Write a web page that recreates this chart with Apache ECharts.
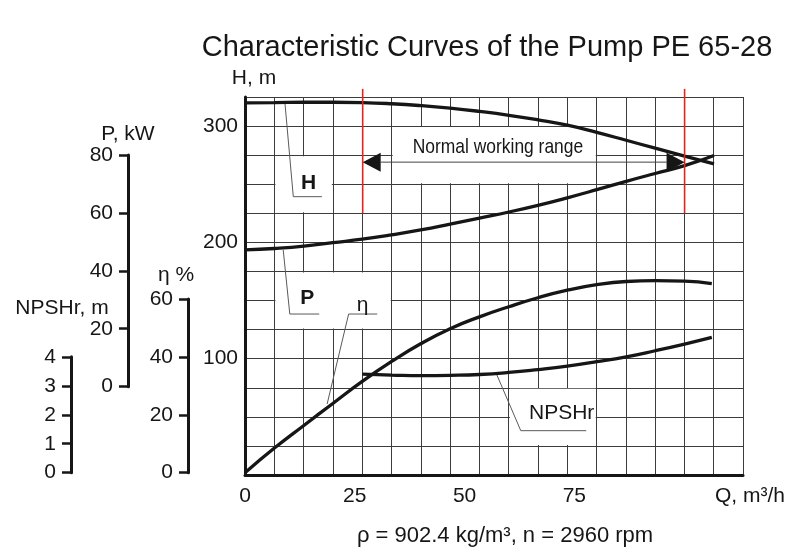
<!DOCTYPE html>
<html><head><meta charset="utf-8">
<script src="https://cdn.jsdelivr.net/npm/echarts@6/dist/echarts.min.js"></script>
<style>html,body{margin:0;padding:0;background:#fff}#c{width:800px;height:554px}</style>
</head><body><div id="c"></div>
<script>
// ---------------- data ----------------
const flowQ   = [0, 6.7, 13.4, 20.0, 26.7, 33.4, 40.0, 46.7, 53.4, 60.1, 66.7, 73.4, 80.1, 86.8, 93.4, 100.1, 106.8];
const headH   = [320, 320.2, 320.5, 320.5, 320.2, 319.2, 317.6, 315.4, 312.6, 309.3, 305.4, 300.8, 294.6, 287.8, 281, 274.2, 267.5];
const powerP  = [47.2, 47.7, 48.5, 49.7, 50.9, 52.4, 54.1, 56.1, 58.2, 60.3, 62.6, 65.2, 68.0, 70.9, 73.6, 76.3, 79.8];
const effQ    = [0, 6.7, 13.4, 20.0, 26.7, 33.4, 40.0, 46.7, 53.4, 60.1, 66.7, 73.4, 80.1, 86.8, 93.4, 100.1, 106.3];
const effEta  = [0, 8.5, 16.3, 23.9, 31.5, 38.4, 44.5, 49.7, 53.8, 57.3, 60.4, 63.0, 64.9, 66.0, 66.3, 66.1, 65.3];
const npshQ   = [26.7, 33.4, 40.0, 46.7, 53.4, 60.1, 66.7, 73.4, 80.1, 86.8, 93.4, 100.1, 106.3];
const npshR   = [3.40, 3.37, 3.35, 3.36, 3.39, 3.46, 3.56, 3.68, 3.83, 4.00, 4.21, 4.44, 4.67];

const qTickLabels = [0, 25, 50, 75];
const hTickLabels = [100, 200, 300];
const pTicks = [0, 80, 20];      // min, max, step
const etaTicks = [0, 60, 20];
const npshTicks = [0, 4, 1];

// annotations (in Q / H units)
const rangeQ = [26.8, 100.1];
const rangeMarkH = [225, 332];
const rangeArrowH = [269];
const rangeText = ['Normal working range'];
const rangeTextPos = [[57.6, 281.6]];
const curveNames = ['H', 'P', 'η', 'NPSHr'];
const curveLabelPos = [[14.5, 250.8], [14.2, 151.9], [26.8, 146], [72.1, 53]];
const leaderPaths = [
  [9.1, 319.6, 11.0, 239.3, 17.5, 239.3],
  [8.7, 193.5, 10.2, 138.4, 16.9, 138.4],
  [18.7, 61.0, 23.6, 138.4, 30.1, 138.4],
  [57.2, 87.4, 62.8, 38.1, 77.7, 38.1]
];
const clearBoxes = [
  [6.7, 225, 20.0, 275],
  [6.7, 125, 33.4, 175],
  [33.4, 250, 80.1, 300],
  [60.1, 25, 80.1, 75]
];

// ---------------- layout ----------------
const FONT = 'Liberation Sans, Arial, sans-serif';
const INK = '#161616';
const G = {left: 245, top: 97, width: 498, height: 378};
const Q_MAX = 113.4, GRID_COLS = 17;
const H_RANGE = [0, 325];
const P_RANGE = [-30.5, 100];
const ETA_RANGE = [-0.8, 129.7];
const NPSH_RANGE = [-0.08, 12.97];
function yPix(v, r) { return G.top + (r[1] - v) / (r[1] - r[0]) * G.height; }

function dispGrid(left, ticks, r) {
  const top = yPix(ticks[1], r), bottom = yPix(ticks[0], r);
  return {left: left, top: top, width: 1, height: bottom - top, outerBoundsMode: 'none'};
}
function dispAxis(gi, ticks, name, gap, pad) {
  return {
    type: 'value', gridIndex: gi, min: ticks[0], max: ticks[1], interval: ticks[2], position: 'left',
    axisLine: {show: true, lineStyle: {color: INK, width: 3}},
    axisTick: {show: true, length: 9, lineStyle: {color: INK, width: 2.5}},
    axisLabel: {margin: 15, fontSize: 21, color: INK, fontFamily: FONT},
    splitLine: {show: false},
    name: name, nameLocation: 'end', nameGap: gap, nameMoveOverlap: false,
    nameTextStyle: {fontSize: 21, color: INK, fontFamily: FONT, padding: pad}
  };
}
const curveStyle = {color: INK, width: 3.3};

const chart = echarts.init(document.getElementById('c'), null, {renderer: 'canvas'});
chart.setOption({
  animation: false,
  backgroundColor: '#fff',
  title: [
    {text: 'Characteristic Curves of the Pump PE 65-28', left: 482, top: 28, textAlign: 'center',
     textStyle: {fontSize: 29, fontWeight: 'normal', color: INK, fontFamily: FONT}},
    {text: 'ρ = 902.4 kg/m³, n = 2960 rpm', left: 500, top: 520, textAlign: 'center',
     textStyle: {fontSize: 22, fontWeight: 'normal', color: INK, fontFamily: FONT}}
  ],
  grid: [
    {left: G.left, top: G.top, width: G.width, height: G.height, outerBoundsMode: 'none'},
    dispGrid(128, pTicks, P_RANGE),
    dispGrid(188, etaTicks, ETA_RANGE),
    dispGrid(71, npshTicks, NPSH_RANGE)
  ],
  xAxis: [
    {type: 'value', gridIndex: 0, min: 0, max: Q_MAX, interval: 25,
     axisLine: {show: true, onZero: false, lineStyle: {color: INK, width: 3}},
     axisTick: {show: false}, splitLine: {show: false},
     axisLabel: {margin: 11, fontSize: 21, color: INK, fontFamily: FONT,
       formatter: v => qTickLabels.indexOf(v) >= 0 ? String(v) : ''},
     name: 'Q, m³/h', nameLocation: 'end', nameGap: -28, nameMoveOverlap: false,
     nameTextStyle: {fontSize: 21, color: INK, fontFamily: FONT, verticalAlign: 'top', align: 'left', padding: [11, 0, 0, 0]}},
    {type: 'value', gridIndex: 0, min: 0, max: GRID_COLS, interval: 1, position: 'bottom',
     axisLine: {show: false}, axisTick: {show: false}, axisLabel: {show: false},
     splitLine: {show: true, lineStyle: {color: '#3c3c3c', width: 1}}},
    {type: 'value', gridIndex: 1, show: false, min: 0, max: 1},
    {type: 'value', gridIndex: 2, show: false, min: 0, max: 1},
    {type: 'value', gridIndex: 3, show: false, min: 0, max: 1}
  ],
  yAxis: [
    {type: 'value', gridIndex: 0, min: H_RANGE[0], max: H_RANGE[1], interval: 25,
     axisLine: {show: true, onZero: false, lineStyle: {color: INK, width: 3}},
     axisTick: {show: false},
     splitLine: {show: true, lineStyle: {color: '#3c3c3c', width: 1}},
     axisLabel: {margin: 7, fontSize: 21, color: INK, fontFamily: FONT,
       formatter: v => hTickLabels.indexOf(v) >= 0 ? String(v) : ''},
     name: 'H, m', nameLocation: 'end', nameGap: 8, nameMoveOverlap: false,
     nameTextStyle: {fontSize: 21, color: INK, fontFamily: FONT, padding: [0, 0, 0, 18]}},
    {type: 'value', gridIndex: 0, show: false, min: P_RANGE[0], max: P_RANGE[1]},
    {type: 'value', gridIndex: 0, show: false, min: ETA_RANGE[0], max: ETA_RANGE[1]},
    {type: 'value', gridIndex: 0, show: false, min: NPSH_RANGE[0], max: NPSH_RANGE[1]},
    dispAxis(1, pTicks, 'P, kW', 10, [0, 0, 0, 0]),
    dispAxis(2, etaTicks, 'η %', 13, [0, 24, 0, 0]),
    dispAxis(3, npshTicks, 'NPSHr, m', 38, [0, 18, 0, 0])
  ],
  series: [
    {type: 'custom', name: 'boxes', xAxisIndex: 0, yAxisIndex: 0, z: 1, silent: true,
     data: clearBoxes,
     renderItem: (p, api) => {
       const a = api.coord([api.value(0), api.value(3)]);
       const b = api.coord([api.value(2), api.value(1)]);
       return {type: 'rect', shape: {x: a[0] + 1, y: a[1] + 1, width: b[0] - a[0] - 2, height: b[1] - a[1] - 2},
               style: {fill: '#ffffff'}};
     }},
    {type: 'custom', name: 'leaders', xAxisIndex: 0, yAxisIndex: 0, z: 2, silent: true,
     data: leaderPaths,
     renderItem: (p, api) => {
       const pts = [0, 2, 4].map(k => api.coord([api.value(k), api.value(k + 1)]));
       return {type: 'polyline', shape: {points: pts}, style: {stroke: '#5a5a5a', lineWidth: 1, fill: null}};
     }},
    {type: 'line', name: 'H', xAxisIndex: 0, yAxisIndex: 0, z: 3, showSymbol: false, smooth: 0.5,
     lineStyle: curveStyle, data: flowQ.map((q, i) => [q, headH[i]])},
    {type: 'line', name: 'P', xAxisIndex: 0, yAxisIndex: 1, z: 3, showSymbol: false, smooth: 0.5,
     lineStyle: curveStyle, data: flowQ.map((q, i) => [q, powerP[i]])},
    {type: 'line', name: 'η', xAxisIndex: 0, yAxisIndex: 2, z: 3, showSymbol: false, smooth: 0.5,
     lineStyle: curveStyle, data: effQ.map((q, i) => [q, effEta[i]])},
    {type: 'line', name: 'NPSHr', xAxisIndex: 0, yAxisIndex: 3, z: 3, showSymbol: false, smooth: 0.5,
     lineStyle: curveStyle, data: npshQ.map((q, i) => [q, npshR[i]])},
    {type: 'custom', name: 'range', xAxisIndex: 0, yAxisIndex: 0, z: 4, silent: true, clip: false,
     data: rangeQ.map(q => [q, rangeMarkH[0], rangeMarkH[1]]),
     renderItem: (p, api) => {
       const a = api.coord([api.value(0), api.value(1)]);
       const b = api.coord([api.value(0), api.value(2)]);
       return {type: 'line', shape: {x1: a[0], y1: a[1], x2: b[0], y2: b[1]},
               style: {stroke: '#e3231c', lineWidth: 1.6}};
     }},
    {type: 'custom', name: 'arrow', xAxisIndex: 0, yAxisIndex: 0, z: 4, silent: true, clip: false,
     data: rangeArrowH.map(h => [rangeQ[0], h, rangeQ[1]]),
     renderItem: (p, api) => {
       const a = api.coord([api.value(0), api.value(1)]);
       const b = api.coord([api.value(2), api.value(1)]);
       const L = 18, W = 9.5;
       return {type: 'group', children: [
         {type: 'line', shape: {x1: a[0] + L, y1: a[1], x2: b[0] - L, y2: b[1]}, style: {stroke: '#444', lineWidth: 1}},
         {type: 'polygon', shape: {points: [[a[0], a[1]], [a[0] + L, a[1] - W], [a[0] + L, a[1] + W]]}, style: {fill: INK}},
         {type: 'polygon', shape: {points: [[b[0], b[1]], [b[0] - L, b[1] - W], [b[0] - L, b[1] + W]]}, style: {fill: INK}}
       ]};
     }},
    {type: 'custom', name: 'rangeText', xAxisIndex: 0, yAxisIndex: 0, z: 5, silent: true, clip: false,
     data: rangeTextPos,
     renderItem: (p, api) => {
       const c = api.coord([api.value(0), api.value(1)]);
       return {type: 'text', x: c[0], y: c[1], scaleX: 0.83,
               style: {text: rangeText[p.dataIndex], fill: INK, font: '21px ' + FONT, align: 'center', verticalAlign: 'middle'}};
     }},
    {type: 'custom', name: 'curveLabels', xAxisIndex: 0, yAxisIndex: 0, z: 5, silent: true, clip: false,
     data: curveLabelPos,
     renderItem: (p, api) => {
       const c = api.coord([api.value(0), api.value(1)]);
       const bold = p.dataIndex < 2;
       return {type: 'text', x: c[0], y: c[1],
               style: {text: curveNames[p.dataIndex], fill: INK, font: (bold ? 'bold ' : '') + '21px ' + FONT,
                       align: 'center', verticalAlign: 'middle'}};
     }}
  ]
});
</script>
</body></html>
